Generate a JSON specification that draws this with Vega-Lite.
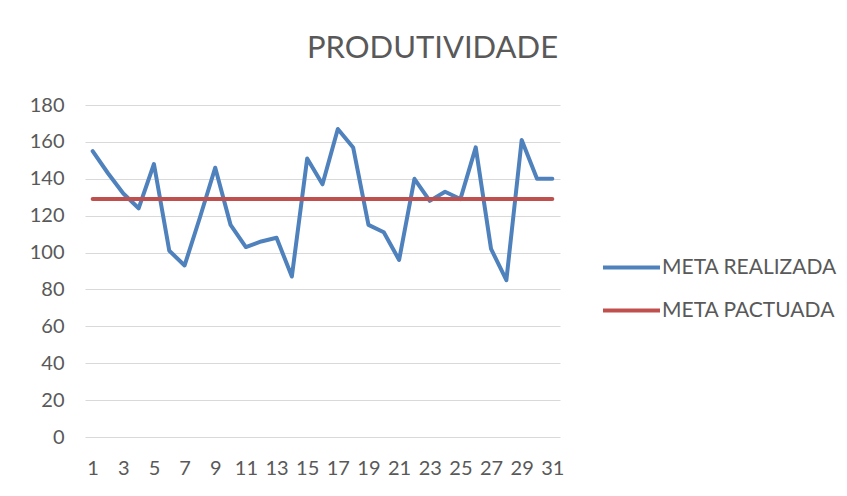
{
  "$schema": "https://vega.github.io/schema/vega-lite/v6.json",
  "autosize": "none",
  "width": 475,
  "height": 332,
  "padding": {"left": 85, "top": 105, "right": 287, "bottom": 59},
  "background": "white",
  "title": {
    "text": "PRODUTIVIDADE",
    "anchor": "middle",
    "frame": "group",
    "dx": 110,
    "offset": 6,
    "baseline": "alphabetic",
    "font": "Lato",
    "fontSize": 31,
    "fontWeight": "normal",
    "color": "#595959"
  },
  "config": {
    "view": {"stroke": null},
    "font": "Lato"
  },
  "data": {
    "values": [
      {"day": 1, "serie": "META REALIZADA", "v": 155},
      {"day": 2, "serie": "META REALIZADA", "v": 143},
      {"day": 3, "serie": "META REALIZADA", "v": 132},
      {"day": 4, "serie": "META REALIZADA", "v": 124},
      {"day": 5, "serie": "META REALIZADA", "v": 148},
      {"day": 6, "serie": "META REALIZADA", "v": 101},
      {"day": 7, "serie": "META REALIZADA", "v": 93},
      {"day": 8, "serie": "META REALIZADA", "v": 119},
      {"day": 9, "serie": "META REALIZADA", "v": 146},
      {"day": 10, "serie": "META REALIZADA", "v": 115},
      {"day": 11, "serie": "META REALIZADA", "v": 103},
      {"day": 12, "serie": "META REALIZADA", "v": 106},
      {"day": 13, "serie": "META REALIZADA", "v": 108},
      {"day": 14, "serie": "META REALIZADA", "v": 87},
      {"day": 15, "serie": "META REALIZADA", "v": 151},
      {"day": 16, "serie": "META REALIZADA", "v": 137},
      {"day": 17, "serie": "META REALIZADA", "v": 167},
      {"day": 18, "serie": "META REALIZADA", "v": 157},
      {"day": 19, "serie": "META REALIZADA", "v": 115},
      {"day": 20, "serie": "META REALIZADA", "v": 111},
      {"day": 21, "serie": "META REALIZADA", "v": 96},
      {"day": 22, "serie": "META REALIZADA", "v": 140},
      {"day": 23, "serie": "META REALIZADA", "v": 128},
      {"day": 24, "serie": "META REALIZADA", "v": 133},
      {"day": 25, "serie": "META REALIZADA", "v": 129},
      {"day": 26, "serie": "META REALIZADA", "v": 157},
      {"day": 27, "serie": "META REALIZADA", "v": 102},
      {"day": 28, "serie": "META REALIZADA", "v": 85},
      {"day": 29, "serie": "META REALIZADA", "v": 161},
      {"day": 30, "serie": "META REALIZADA", "v": 140},
      {"day": 31, "serie": "META REALIZADA", "v": 140},
      {"day": 1, "serie": "META PACTUADA", "v": 129},
      {"day": 2, "serie": "META PACTUADA", "v": 129},
      {"day": 3, "serie": "META PACTUADA", "v": 129},
      {"day": 4, "serie": "META PACTUADA", "v": 129},
      {"day": 5, "serie": "META PACTUADA", "v": 129},
      {"day": 6, "serie": "META PACTUADA", "v": 129},
      {"day": 7, "serie": "META PACTUADA", "v": 129},
      {"day": 8, "serie": "META PACTUADA", "v": 129},
      {"day": 9, "serie": "META PACTUADA", "v": 129},
      {"day": 10, "serie": "META PACTUADA", "v": 129},
      {"day": 11, "serie": "META PACTUADA", "v": 129},
      {"day": 12, "serie": "META PACTUADA", "v": 129},
      {"day": 13, "serie": "META PACTUADA", "v": 129},
      {"day": 14, "serie": "META PACTUADA", "v": 129},
      {"day": 15, "serie": "META PACTUADA", "v": 129},
      {"day": 16, "serie": "META PACTUADA", "v": 129},
      {"day": 17, "serie": "META PACTUADA", "v": 129},
      {"day": 18, "serie": "META PACTUADA", "v": 129},
      {"day": 19, "serie": "META PACTUADA", "v": 129},
      {"day": 20, "serie": "META PACTUADA", "v": 129},
      {"day": 21, "serie": "META PACTUADA", "v": 129},
      {"day": 22, "serie": "META PACTUADA", "v": 129},
      {"day": 23, "serie": "META PACTUADA", "v": 129},
      {"day": 24, "serie": "META PACTUADA", "v": 129},
      {"day": 25, "serie": "META PACTUADA", "v": 129},
      {"day": 26, "serie": "META PACTUADA", "v": 129},
      {"day": 27, "serie": "META PACTUADA", "v": 129},
      {"day": 28, "serie": "META PACTUADA", "v": 129},
      {"day": 29, "serie": "META PACTUADA", "v": 129},
      {"day": 30, "serie": "META PACTUADA", "v": 129},
      {"day": 31, "serie": "META PACTUADA", "v": 129}
    ]
  },
  "mark": {"type": "line", "strokeWidth": 4, "strokeCap": "round", "strokeJoin": "round"},
  "encoding": {
    "x": {
      "field": "day",
      "type": "ordinal",
      "scale": {"type": "point", "padding": 0.5},
      "axis": {
        "title": null,
        "labelAngle": 0,
        "labelExpr": "datum.value % 2 == 1 ? datum.label : ''",
        "ticks": false,
        "domain": false,
        "labelFont": "Lato",
        "labelFontSize": 20,
        "labelColor": "#595959",
        "labelPadding": 31,
        "labelBaseline": "middle"
      }
    },
    "y": {
      "field": "v",
      "type": "quantitative",
      "scale": {"domain": [0, 180], "nice": false},
      "axis": {
        "title": null,
        "values": [0, 20, 40, 60, 80, 100, 120, 140, 160, 180],
        "ticks": false,
        "domain": false,
        "gridColor": "#d9d9d9",
        "gridWidth": 1,
        "labelFont": "Lato",
        "labelFontSize": 20,
        "labelColor": "#595959",
        "labelPadding": 21
      }
    },
    "color": {
      "field": "serie",
      "type": "nominal",
      "scale": {"domain": ["META REALIZADA", "META PACTUADA"], "range": ["#4F81BD", "#C0504D"]},
      "legend": {
        "title": null,
        "orient": "none",
        "legendX": 516,
        "legendY": 132,
        "symbolType": "stroke",
        "symbolSize": 3249,
        "symbolStrokeWidth": 4,
        "labelFont": "Lato",
        "labelFontSize": 21,
        "labelColor": "#595959",
        "labelOffset": 0,
        "labelLimit": 400,
        "rowPadding": 2
      }
    }
  }
}
